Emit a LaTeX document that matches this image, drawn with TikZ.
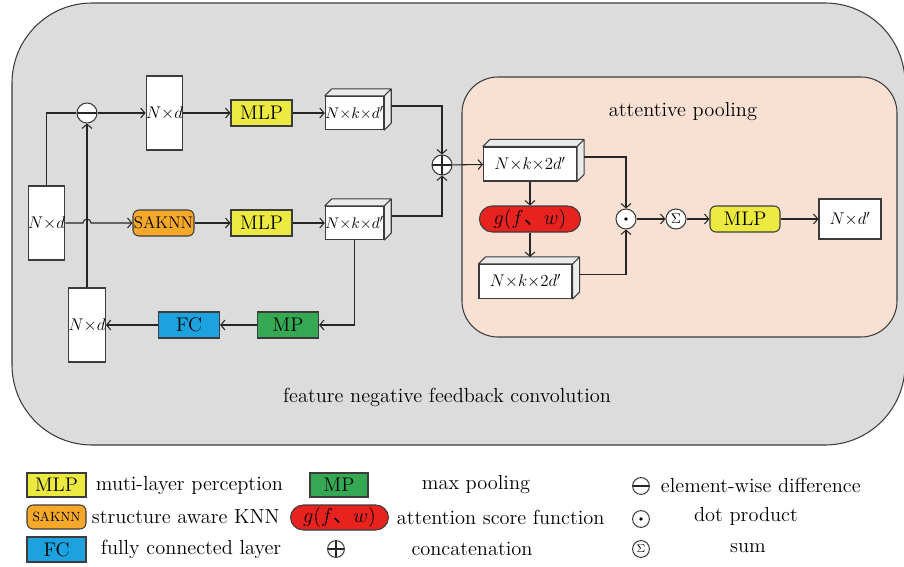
\documentclass[tikz,border=0pt]{standalone}
\usepackage{fontspec}
\newfontfamily\cjk{Noto Sans CJK SC}
\usetikzlibrary{positioning,arrows.meta}
\definecolor{bggray}{RGB}{220,220,220}
\definecolor{peach}{RGB}{248,224,211}
\definecolor{mlpyellow}{RGB}{236,233,64}
\definecolor{sakorange}{RGB}{245,168,42}
\definecolor{mpgreen}{RGB}{52,168,82}
\definecolor{fcblue}{RGB}{28,162,222}
\definecolor{gred}{RGB}{232,34,30}
\definecolor{edge}{RGB}{60,60,60}
\tikzset{
  base/.style={draw=edge, line width=0.75pt, inner sep=0pt},
  box/.style={base, fill=white, font=\fontsize{11}{13}\selectfont},
  tallbox/.style={box, minimum width=0.875cm, minimum height=1.85cm, font=\fontsize{12.5}{14}\selectfont},
  cube/.style={box, minimum width=1.375cm, minimum height=0.825cm},
  widecube/.style={box, minimum width=2.325cm, minimum height=0.85cm, font=\fontsize{12}{14}\selectfont},
  face/.style={draw=edge, line width=0.75pt, fill=white!92!black, line join=round},
  op/.style={base, minimum width=1.525cm, minimum height=0.65cm, font=\fontsize{14}{16}\selectfont},
  mlp/.style={op, fill=mlpyellow},
  mpbox/.style={op, fill=mpgreen},
  fcbox/.style={op, fill=fcblue},
  saknn/.style={op, fill=sakorange, rounded corners=0.15cm, font=\fontsize{12}{14}\selectfont},
  gbox/.style={op, fill=gred, rounded corners=0.32cm, minimum width=2.525cm},
  sym/.style={base, circle, fill=white, minimum size=0.5cm},
  minus/.style={sym, path picture={\draw[conn] (path picture bounding box.west) -- (path picture bounding box.east);}},
  oplus/.style={sym, path picture={\draw[conn] (path picture bounding box.west) -- (path picture bounding box.east)
      (path picture bounding box.north) -- (path picture bounding box.south);}},
  odot/.style={sym, path picture={\fill[black] (path picture bounding box.center) circle[radius=0.045cm];}},
  sumsym/.style={sym, font=\fontsize{10}{10}\selectfont},
  conn/.style={line width=0.75pt, draw=black!85},
  arr/.style={conn, -{Straight Barb[length=3pt, width=7pt]}},
  lbl/.style={font=\fontsize{14.5}{17}\selectfont},
}
\newcommand{\gfw}{$g(f$\hspace{0.5pt}{\cjk 、}$w)$}
\begin{document}
\begin{tikzpicture}[x=0.025cm, y=-0.025cm]
\useasboundingbox (0,0) rectangle (904,567);
\draw[draw=edge, fill=bggray, rounded corners=2cm, line width=0.75pt] (12,3) rectangle (905,445);
\draw[draw=edge, fill=peach, rounded corners=0.9cm, line width=0.75pt] (462,77) rectangle (897,337);
\node[lbl] (ap) at (683,112) {attentive pooling};
\node[lbl] (fnfc) at (447,397) {feature negative feedback convolution};

\node[tallbox] (in) at (46.5,223) {$N{\times}d$};
\node[minus] (diff) at (87,113) {};
\node[tallbox] (nd1) at (164.5,113) {$N{\times}d$};
\node[mlp] (mlp1) at (261.5,113) {MLP};
\node[cube] (cb1) at (354.5,113) {$N{\times}k{\times}d'$};
\node[saknn] (sak) at (163.5,223) {SAKNN};
\node[mlp] (mlp2) at (261.5,223) {MLP};
\node[cube] (cb2) at (354.5,223) {$N{\times}k{\times}d'$};
\node[oplus] (cat) at (442,165) {};
\node[tallbox] (nd2) at (87,325) {$N{\times}d$};
\node[fcbox] (fc) at (189,325) {FC};
\node[mpbox] (mp) at (288,325) {MP};
\node[widecube] (cb3) at (530,164) {$N{\times}k{\times}2d'$};
\node[gbox] (att) at (530,219) {\gfw};
\node[widecube] (cb4) at (525.5,281.5) {$N{\times}k{\times}2d'$};
\node[odot] (dot) at (626,219) {};
\node[sumsym] (sum) at (676,219) {$\Sigma$};
\node[mlp, rounded corners=0.15cm, minimum width=1.75cm] (mlp3) at (745,219) {MLP};
\node[box, minimum width=1.55cm, minimum height=1cm, font=\fontsize{12}{14}\selectfont] (out) at (850,219) {$N{\times}d'$};

% top and side faces of the blocks
\foreach \c in {cb1,cb2,cb3,cb4}
  \draw[face] (\c.north west) -- ++(7,-7) -- ([shift={(7,-7)}]\c.north east) -- ([shift={(7,-7)}]\c.south east)
    -- (\c.south east) -- (\c.north east) -- cycle (\c.north east) -- ++(7,-7);
\coordinate (cb4top) at ([shift={(0,-7)}]cb4.north);
\coordinate (hop) at (83,223);

\draw[conn] (in.north) |- (diff.west);
\draw[arr] (diff) -- (nd1);
\draw[arr] (nd1) -- (mlp1);
\draw[arr] (mlp1) -- (cb1);
\draw[arr] (in.east) -- (hop) arc[start angle=180, end angle=0, radius=0.1cm] -- (sak);
\draw[arr] (sak) -- (mlp2);
\draw[arr] (mlp2) -- (cb2);
\draw[arr] ([shift={(7,-7)}]cb1.east) -| (cat.north);
\draw[arr] ([shift={(7,-7)}]cb2.east) -| (cat.south);
\draw[arr] (cat) -- (cb3);
\draw[arr] (cb2.south) |- (mp.east);
\draw[arr] (mp) -- (fc);
\draw[arr] (fc) -- (nd2);
\draw[arr] (nd2) -- (diff);
\draw[arr] (cb3) -- (att);
\draw[arr] (att.south) -- (att.south |- cb4top);
\draw[arr] ([shift={(7,-7)}]cb3.east) -| (dot.north);
\draw[arr] ([shift={(7,-7)}]cb4.east) -| (dot.south);
\draw[arr] (dot) -- (sum);
\draw[arr] (sum) -- (mlp3);
\draw[arr] (mlp3) -- (out);

% legend
\node[mlp, minimum width=1.475cm, minimum height=0.6cm] (lmlp) at (56.5,485) {MLP};
\node[lbl, anchor=west] (tmlp) at (91,485) {muti-layer perception};
\node[mpbox, minimum width=1.45cm, minimum height=0.6cm] (lmp) at (339,485) {MP};
\node[lbl] (tmp) at (476,485) {max pooling};
\node[minus, minimum size=0.42cm] (lminus) at (641,486) {};
\node[lbl, anchor=west] (tminus) at (656,485) {element-wise difference};
\node[saknn, minimum width=1.475cm, minimum height=0.6cm, font=\fontsize{9.5}{11}\selectfont] (lsak) at (56.5,517) {SAKNN};
\node[lbl, anchor=west] (tsak) at (87,517) {structure aware KNN};
\node[gbox, minimum width=2.45cm, minimum height=0.625cm] (latt) at (339.5,517.5) {\gfw};
\node[lbl, anchor=west] (tatt) at (392,517) {attention score function};
\node[odot, minimum size=0.42cm] (ldot) at (641,519) {};
\node[lbl] (tdot) at (746,516) {dot product};
\node[fcbox, minimum width=1.475cm, minimum height=0.625cm] (lfc) at (56.5,549.5) {FC};
\node[lbl, anchor=west] (tfc) at (96,549) {fully connected layer};
\node[oplus, minimum size=0.42cm] (lcat) at (336,549) {};
\node[lbl] (tcat) at (472,549) {concatenation};
\node[sumsym, minimum size=0.42cm, font=\fontsize{8}{8}\selectfont] (lsum) at (641,549) {$\Sigma$};
\node[lbl] (tsum) at (748,548) {sum};
\end{tikzpicture}
\end{document}
